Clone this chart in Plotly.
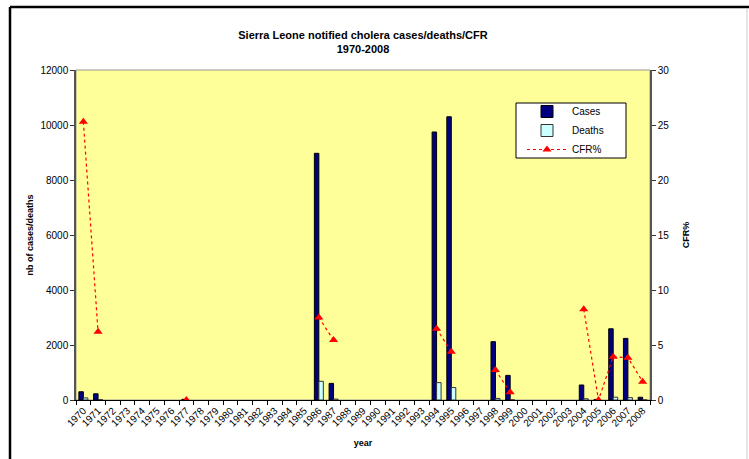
import plotly.graph_objects as go

years = [str(y) for y in range(1970, 2009)]
cases_data = {1970: 300, 1971: 226, 1977: 25, 1986: 8970, 1987: 605, 1994: 9745, 1995: 10300,
              1998: 2120, 1999: 895, 2004: 545, 2005: 20, 2006: 2590, 2007: 2240, 2008: 100}
deaths_data = {1970: 76, 1971: 14, 1977: 0, 1986: 680, 1987: 33, 1994: 632, 1995: 452,
               1998: 58, 1999: 6, 2004: 45, 2005: 0, 2006: 102, 2007: 86, 2008: 2}
cfr_data = {1970: 25.3, 1971: 6.2, 1977: 0.0, 1986: 7.5, 1987: 5.45, 1994: 6.48, 1995: 4.39,
            1998: 2.73, 1999: 0.7, 2004: 8.24, 2005: 0.0, 2006: 3.94, 2007: 3.85, 2008: 1.67}

cases = [cases_data.get(int(y)) or None for y in years]
deaths = [deaths_data.get(int(y)) or None for y in years]
cfr = [cfr_data.get(int(y), None) for y in years]

FONT = "Arial, Liberation Sans, sans-serif"

fig = go.Figure()
fig.add_trace(go.Bar(x=years, y=cases, name="Cases",
                     marker=dict(color="#000080", line=dict(color="#000000", width=1))))
fig.add_trace(go.Bar(x=years, y=deaths, name="Deaths",
                     marker=dict(color="#CCFFFF", line=dict(color="#333333", width=1))))
fig.add_trace(go.Scatter(x=years, y=cfr, name="CFR%", yaxis="y2", mode="lines+markers",
                         connectgaps=False,
                         line=dict(color="#FF0000", width=1.2, dash="dot"),
                         marker=dict(symbol="triangle-up", size=8, color="#FF0000")))

fig.update_layout(
    width=749, height=459,
    margin=dict(l=76, r=99, t=70, b=59),
    paper_bgcolor="white",
    plot_bgcolor="#FFFF99",
    barmode="group", bargap=0.39, bargroupgap=0,
    font=dict(family=FONT, size=10, color="#000000"),
    title=dict(text="<b>Sierra Leone notified cholera cases/deaths/CFR<br>1970-2008</b>",
               x=0.5 * (76 + 650) / 749, xanchor="center", y=1 - 39 / 459, yanchor="top",
               font=dict(family=FONT, size=11)),
    xaxis=dict(type="category", range=[-0.5, 38.5], tickangle=-45, showgrid=False, showline=True,
               linecolor="#000000", linewidth=1, ticks="outside", ticklen=4,
               tickson="boundaries", tickcolor="#000000", automargin=False,
               title=dict(text="<b>year</b>", font=dict(size=9), standoff=12),
               tickfont=dict(size=10)),
    yaxis=dict(range=[0, 12000], dtick=2000, tickformat="d", showgrid=False, zeroline=False,
               showline=True, linecolor="#555555", linewidth=1.5, ticks="outside",
               ticklen=4, tickcolor="#333333", automargin=False,
               title=dict(text="<b>nb of cases/deaths</b>", font=dict(size=9), standoff=5),
               tickfont=dict(size=10)),
    yaxis2=dict(range=[0, 30], dtick=5, overlaying="y", side="right", showgrid=False,
                zeroline=False, showline=True, linecolor="#555555", linewidth=1.5,
                ticks="outside", ticklen=4, tickcolor="#333333", automargin=False,
                title=dict(text="<b>CFR%</b>", font=dict(size=9), standoff=14),
                tickfont=dict(size=10)),
    legend=dict(x=(522 - 76) / 574, y=(400 - 97) / 330, xanchor="left", yanchor="top",
                bgcolor="rgba(0,0,0,0)", borderwidth=0,
                font=dict(size=10), itemwidth=40),
    showlegend=True,
)

# plot area border
fig.add_shape(type="rect", xref="paper", yref="paper", x0=0, x1=1, y0=0, y1=1,
              line=dict(color="#999999", width=1), layer="below")
# legend box
fig.add_shape(type="rect", xref="paper", yref="paper",
              x0=(516 - 76) / 574, x1=(626 - 76) / 574, y0=(400 - 158) / 330, y1=(400 - 103) / 330,
              line=dict(color="#000000", width=1), fillcolor="white", layer="above")
# outer chart border
fig.add_shape(type="line", xref="paper", yref="paper",
              x0=(10 - 76) / 574, x1=(10 - 76) / 574, y0=(400 - 7) / 330, y1=(400 - 480) / 330,
              line=dict(color="#000000", width=2.5))
fig.add_shape(type="line", xref="paper", yref="paper",
              x0=(10 - 76) / 574, x1=(760 - 76) / 574, y0=(400 - 7) / 330, y1=(400 - 7) / 330,
              line=dict(color="#000000", width=2.5))
fig.add_shape(type="line", xref="paper", yref="paper",
              x0=(747 - 76) / 574, x1=(747 - 76) / 574, y0=(400 - 8) / 330, y1=(400 - 480) / 330,
              line=dict(color="#CCCCCC", width=1))

fig.write_html("out.html", config={"displayModeBar": False},
               post_script="document.body.style.margin='0px';document.body.style.padding='0px';")
